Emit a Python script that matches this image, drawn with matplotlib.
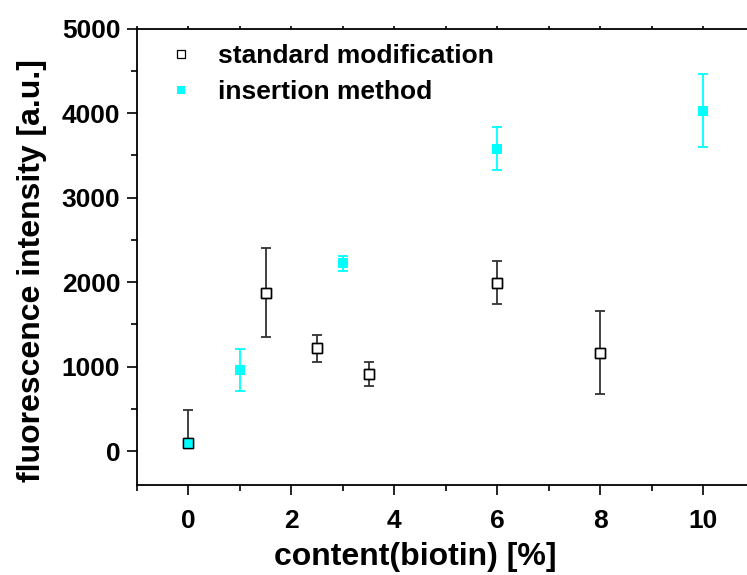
import matplotlib
matplotlib.use("Agg")
import matplotlib.pyplot as plt
from matplotlib.ticker import MultipleLocator
from matplotlib.lines import Line2D

plt.rcParams["font.family"] = ["Liberation Sans", "DejaVu Sans"]
plt.rcParams["font.weight"] = "bold"

# standard modification
std_x = [0, 1.5, 2.5, 3.5, 6, 8]
std_y = [100, 1875, 1215, 910, 1995, 1165]
std_err_lo = [0, 530, 165, 140, 253, 490]
std_err_hi = [385, 530, 165, 140, 253, 490]

# insertion method
ins_x = [0, 1, 3, 6, 10]
ins_y = [100, 960, 2225, 3580, 4030]
ins_err = [0, 243, 88, 253, 435]

cyan = "#00ffff"

fig = plt.figure(figsize=(7.47, 5.75), dpi=100)
ax = fig.add_axes([137 / 747, 90 / 575, 617.5 / 747, 456.5 / 575])

ax.errorbar(std_x, std_y, yerr=[std_err_lo, std_err_hi], fmt="none",
            ecolor="#333333", elinewidth=1.3, capsize=3.5, capthick=1.3, zorder=2)
ax.errorbar(ins_x, ins_y, yerr=ins_err, fmt="none",
            ecolor=cyan, elinewidth=1.3, capsize=3.5, capthick=1.3, zorder=2)
ax.plot(std_x, std_y, "s", ms=7, mfc="white", mec="black", mew=1.0, zorder=4)
ax.plot(ins_x, ins_y, "s", ms=7.5, mfc=cyan, mec=cyan, mew=0, zorder=5)
ax.plot(std_x, std_y, "s", ms=7, mfc="none", mec="black", mew=1.0, zorder=6)

ax.set_xlim(-1, 11)
ax.set_ylim(-400, 5000)
ax.xaxis.set_major_locator(MultipleLocator(2))
ax.xaxis.set_minor_locator(MultipleLocator(1))
ax.yaxis.set_major_locator(MultipleLocator(1000))
ax.yaxis.set_minor_locator(MultipleLocator(500))

ax.spines["right"].set_visible(False)
for s in ["left", "bottom", "top"]:
    ax.spines[s].set_linewidth(1.3)

ax.tick_params(which="both", direction="out", width=1.2, labelsize=19, top=False)
ax.tick_params(which="major", length=7)
ax.tick_params(which="minor", length=4)
ax.tick_params(axis="x", which="both", top=True, pad=10)
ax.tick_params(axis="y", which="major", pad=5)
# short ticks on the top axis
for t in ax.xaxis.get_ticklines(minor=False)[1::2] + ax.xaxis.get_ticklines(minor=True)[1::2]:
    t.set_markersize(2.5)

ax.set_xlabel("content(biotin) [%]", fontsize=23, fontweight="bold")
ax.set_ylabel("fluorescence intensity [a.u.]", fontsize=23, fontweight="bold")
ax.xaxis.set_label_coords(0.45, -0.125)
ax.yaxis.set_label_coords(-0.145, 0.47)

handles = [
    Line2D([], [], ls="none", marker="s", ms=6, mfc="white", mec="black", mew=0.9),
    Line2D([], [], ls="none", marker="s", ms=6, mfc=cyan, mec=cyan, mew=0),
]
ax.legend(handles, ["standard modification", "insertion method"], loc="upper left",
          bbox_to_anchor=(165 / 747, 1 - 44 / 575), bbox_transform=fig.transFigure,
          frameon=False, fontsize=19, borderpad=0, borderaxespad=0,
          handletextpad=0.8, labelspacing=0.45, handlelength=1.2)

fig.savefig("out.png", dpi=100)
